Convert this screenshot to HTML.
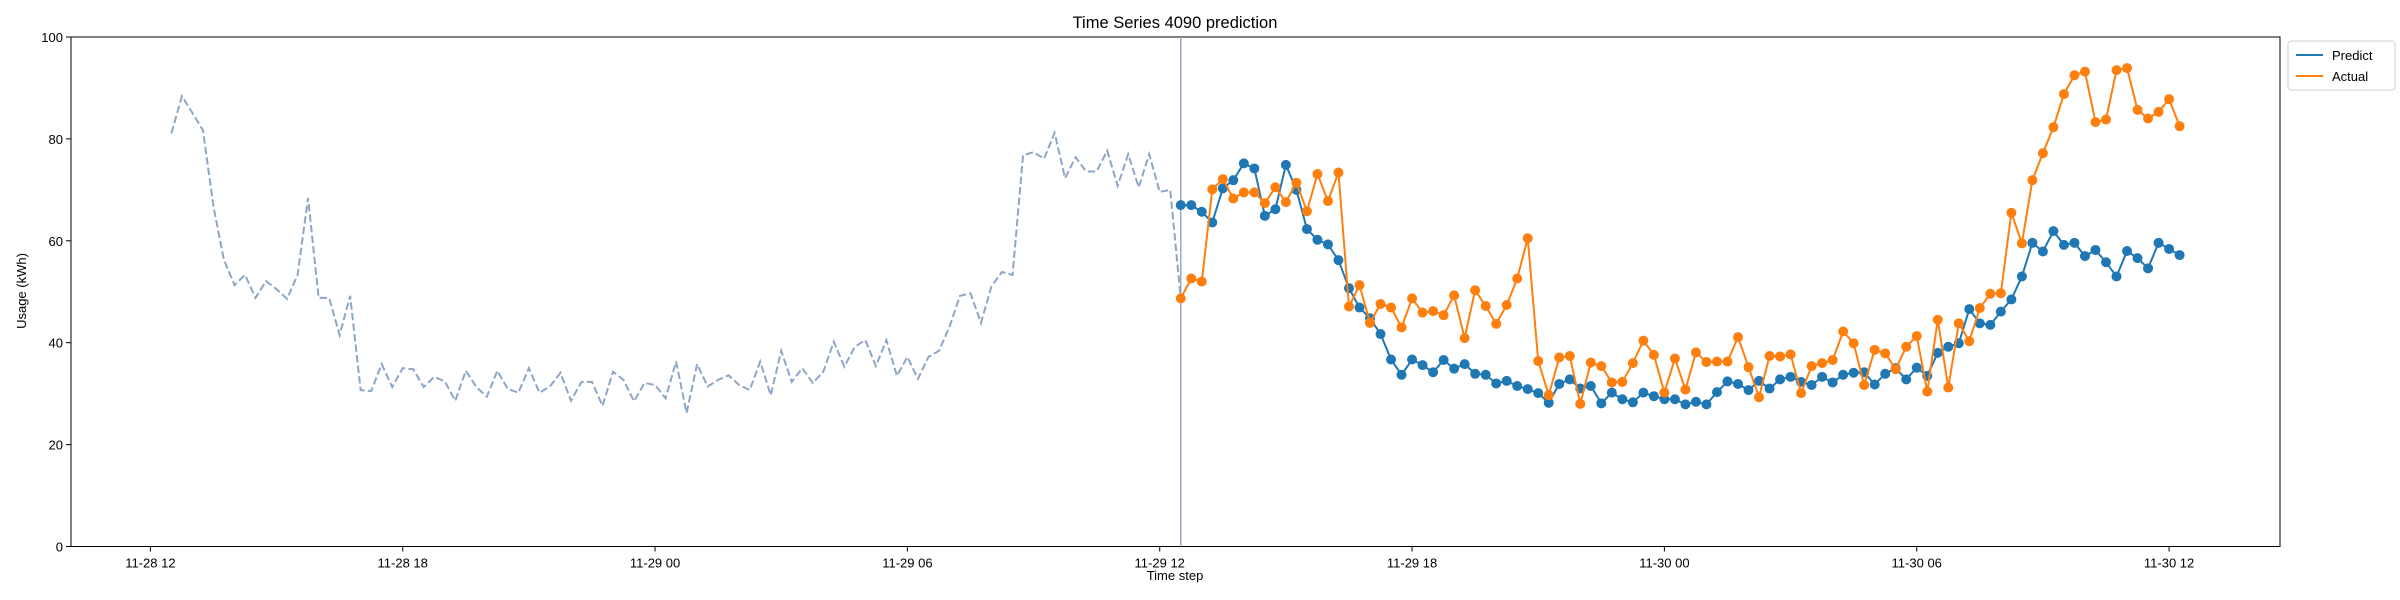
<!DOCTYPE html>
<html><head><meta charset="utf-8">
<style>
html,body{margin:0;padding:0;background:#fff;}
svg{display:block;font-family:"Liberation Sans","DejaVu Sans",sans-serif;}
</style></head>
<body>
<svg id="chart" width="2400" height="600" viewBox="0 0 2400 600" xmlns="http://www.w3.org/2000/svg">
<rect x="0" y="0" width="2400" height="600" fill="#fff"/>
<text x="1175" y="28" text-anchor="middle" font-size="16.5" fill="#000">Time Series 4090 prediction</text>
<text x="1175" y="580" text-anchor="middle" font-size="13" fill="#000">Time step</text>
<text transform="translate(26,291) rotate(-90)" text-anchor="middle" font-size="13" fill="#000">Usage (kWh)</text>
<g id="plot"></g>
<g id="legend">
  <rect x="2288" y="41" width="107" height="49" rx="3" fill="#fff" stroke="#d0d0d0"/>
  <line x1="2296" y1="55" x2="2323" y2="55" stroke="#1f77b4" stroke-width="2"/>
  <text x="2332" y="60" font-size="13">Predict</text>
  <line x1="2296" y1="76" x2="2323" y2="76" stroke="#ff7f0e" stroke-width="2"/>
  <text x="2332" y="81" font-size="13">Actual</text>
</g>
</svg>
<script>
// ---- data (time steps are 15-minute intervals since 11-28 12:00) ----
const historyStart = 2;
const historyValues = [81.1,88.4,85.1,81.7,66.7,56.2,51.3,53.3,48.8,52.1,50.5,48.6,53.3,68.4,48.8,48.8,41.5,49.2,30.7,30.5,35.8,31.3,35.0,34.8,31.3,33.3,32.4,28.6,34.5,31.3,29.4,34.5,
30.9,30.2,35.0,30.2,31.4,34.1,28.6,32.3,32.3,27.6,34.3,32.7,28.5,32.1,31.7,29.1,36.3,26.2,35.8,31.4,32.7,33.6,31.7,30.7,36.3,29.7,38.4,32.3,35.0,32.1,34.3,40.2,35.3,
39.2,40.5,35.4,40.5,33.5,37.2,32.9,37.2,38.4,43.1,49.2,49.7,43.9,51.1,53.9,53.3,76.8,77.4,76.1,81.2,72.3,76.4,73.6,73.6,77.7,70.8,77.0,70.5,77.0,69.6,70.0,48.7];
const forecastStart = 98;
const predictValues = [67.0,67.0,65.7,63.6,70.3,71.9,75.2,74.2,64.9,66.2,74.9,70.0,62.3,60.2,59.3,56.2,50.7,46.9,44.8,41.7,36.7,33.7,36.7,35.6,34.2,36.6,34.9,35.8,33.9,33.7,32.0,32.5,
31.5,30.9,30.1,28.2,31.9,32.8,31.0,31.5,28.1,30.2,28.9,28.3,30.2,29.5,28.9,28.9,27.9,28.4,27.9,30.3,32.4,31.9,30.7,32.5,31.0,32.8,33.3,32.3,31.7,33.3,32.2,33.7,
34.1,34.2,31.8,33.9,35.0,32.8,35.1,33.5,38.0,39.2,39.9,46.6,43.8,43.5,46.1,48.5,53.0,59.6,57.9,61.9,59.2,59.6,57.0,58.2,55.8,53.0,58.0,56.6,54.6,59.6,58.4,57.2];
const actualValues = [48.7,52.6,52.0,70.1,72.1,68.3,69.5,69.5,67.4,70.5,67.6,71.4,65.8,73.1,67.8,73.4,47.1,51.3,43.9,47.6,46.9,43.0,48.7,45.9,46.2,45.4,49.3,40.9,50.3,47.2,43.7,47.4,
52.6,60.5,36.4,29.7,37.1,37.4,28.0,36.1,35.4,32.2,32.3,36.0,40.4,37.6,30.2,36.9,30.8,38.1,36.2,36.3,36.3,41.1,35.2,29.3,37.4,37.3,37.7,30.1,35.4,36.0,36.6,42.2,
39.9,31.7,38.6,37.9,34.8,39.2,41.3,30.4,44.5,31.2,43.8,40.3,46.8,49.6,49.7,65.5,59.5,71.9,77.2,82.3,88.8,92.5,93.2,83.3,83.8,93.5,93.9,85.7,84.0,85.3,87.8,82.5];
const xTickSteps = [0,24,48,72,96,120,144,168,192];
const xTickLabels = ["11-28 12","11-28 18","11-29 00","11-29 06","11-29 12","11-29 18","11-30 00","11-30 06","11-30 12"];
const yTickValues = [0,20,40,60,80,100];

// ---- layout ----
const L=71, R=2280, T=37, B=546.5;
const tMin=-7.55, tMax=202.55;
function xs(t){return L+(t-tMin)/(tMax-tMin)*(R-L);}
function ys(v){return B-(v/100)*(B-T);}
const NS="http://www.w3.org/2000/svg";
const plot=document.getElementById('plot');
function mk(tag,attrs,parent){const e=document.createElementNS(NS,tag);for(const k in attrs)e.setAttribute(k,attrs[k]);(parent||plot).appendChild(e);return e;}

const frame=mk('rect',{x:L,y:T,width:R-L,height:B-T,fill:'none',stroke:'#000','stroke-width':1});



yTickValues.forEach(v=>{
  const y=ys(v);
  const tk=mk('line',{x1:L-5,y1:y,x2:L,y2:y,stroke:'#000'});
  
  
  const tx=mk('text',{x:L-8,y:y+5,'text-anchor':'end','font-size':13});
  tx.textContent=v;
  
  
});
xTickSteps.forEach((t,i)=>{
  const x=xs(t);
  const tk=mk('line',{x1:x,y1:B,x2:x,y2:B+5,stroke:'#000'});
  
  
  const tx=mk('text',{x:x,y:B+21,'text-anchor':'middle','font-size':13});
  tx.textContent=xTickLabels[i];
  
  
});

const vl=mk('line',{x1:xs(forecastStart),y1:T,x2:xs(forecastStart),y2:B,stroke:'#9ca6cc','stroke-width':1.5});



function pts(start,vals){return vals.map((v,i)=>xs(start+i).toFixed(2)+','+ys(v).toFixed(2)).join(' ');}

const hl=mk('polyline',{points:pts(historyStart,historyValues),fill:'none',stroke:'#8ea6c6','stroke-width':2,'stroke-dasharray':'7.4,3.2'});



function series(vals,color,name){
  const g=mk('g',{});
  
  
  const pl=mk('polyline',{points:pts(forecastStart,vals),fill:'none',stroke:color,'stroke-width':2},g);
  
  
  vals.forEach((v,i)=>{
    const c=mk('circle',{cx:xs(forecastStart+i),cy:ys(v),r:5,fill:color},g);
    
    
  });
}
series(predictValues,'#1f77b4','predict');
series(actualValues,'#ff7f0e','actual');
</script>
</body></html>
